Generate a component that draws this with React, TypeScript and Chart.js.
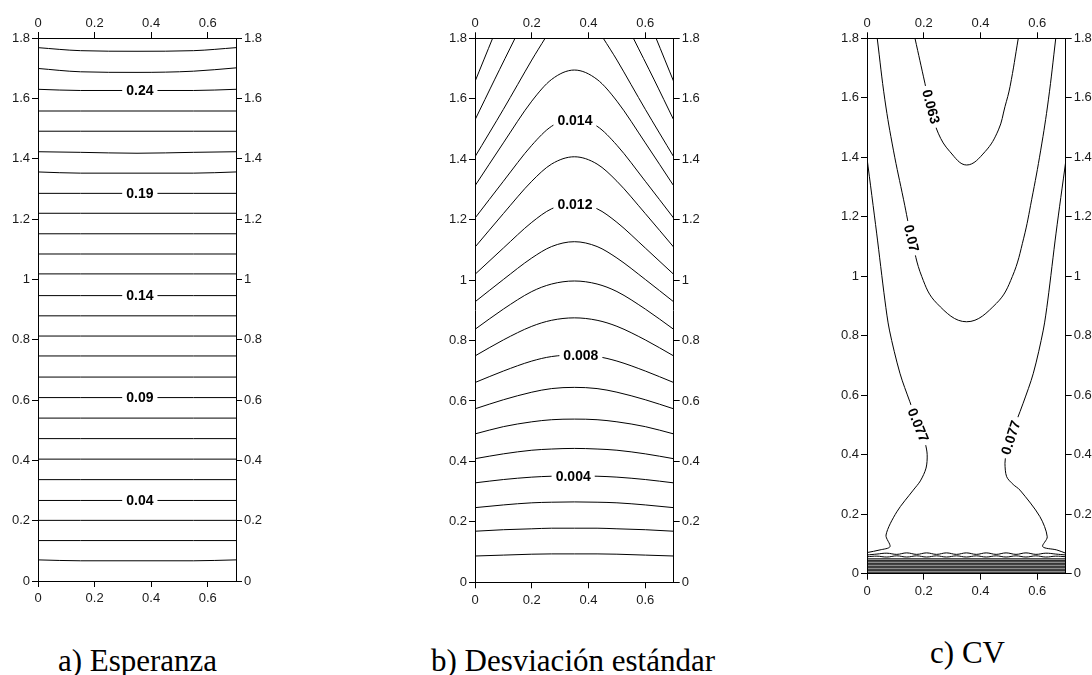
import React, { useEffect, useRef } from 'react';
import { Chart, registerables } from 'chart.js';
Chart.register(...registerables);

// ---------- shared axes ----------
const xTicks = [0, 0.2, 0.4, 0.6];
const yTicks = [0, 0.2, 0.4, 0.6, 0.8, 1, 1.2, 1.4, 1.6, 1.8];
const xMax = 0.7;
const yMax = 1.8;

// ---------- a) Esperanza ----------
const espX = [0, 0.15, 0.35, 0.55, 0.7];
const espLines = [
  [0.070, 0.067, 0.067, 0.067, 0.070],
  [0.134, 0.134, 0.134, 0.134, 0.134],
  [0.201, 0.201, 0.201, 0.201, 0.201],
  [0.267, 0.267, 0.267, 0.267, 0.267],
  [0.336, 0.336, 0.336, 0.336, 0.336],
  [0.404, 0.404, 0.404, 0.404, 0.404],
  [0.472, 0.472, 0.472, 0.472, 0.472],
  [0.540, 0.540, 0.540, 0.540, 0.540],
  [0.608, 0.608, 0.608, 0.608, 0.608],
  [0.676, 0.676, 0.676, 0.676, 0.676],
  [0.746, 0.746, 0.746, 0.746, 0.746],
  [0.812, 0.812, 0.812, 0.812, 0.812],
  [0.879, 0.879, 0.879, 0.879, 0.879],
  [0.946, 0.946, 0.946, 0.946, 0.946],
  [1.018, 1.018, 1.018, 1.018, 1.018],
  [1.084, 1.084, 1.084, 1.084, 1.084],
  [1.151, 1.151, 1.151, 1.151, 1.151],
  [1.219, 1.219, 1.219, 1.219, 1.219],
  [1.285, 1.285, 1.285, 1.285, 1.285],
  [1.356, 1.352, 1.352, 1.352, 1.356],
  [1.423, 1.421, 1.418, 1.421, 1.423],
  [1.491, 1.491, 1.491, 1.491, 1.491],
  [1.558, 1.558, 1.558, 1.558, 1.558],
  [1.630, 1.626, 1.626, 1.626, 1.630],
  [1.699, 1.688, 1.686, 1.690, 1.701],
  [1.768, 1.758, 1.756, 1.758, 1.768],
];
const espLabelText = ['0.04', '0.09', '0.14', '0.19', '0.24'];
const espLabelX = [0.36, 0.36, 0.36, 0.36, 0.36];
const espLabelY = [0.267, 0.608, 0.946, 1.285, 1.627];
const espLabelAngle = [0, 0, 0, 0, 0];

// ---------- b) Desviación estándar ----------
const desvX = [0, 0.1, 0.2, 0.27, 0.35, 0.43, 0.5, 0.6, 0.7];
const desvLines = [
  [0.087, 0.090, 0.093, 0.094, 0.094, 0.094, 0.093, 0.090, 0.087],
  [0.169, 0.174, 0.177, 0.179, 0.179, 0.179, 0.177, 0.174, 0.169],
  [0.247, 0.256, 0.263, 0.265, 0.266, 0.265, 0.263, 0.256, 0.247],
  [0.329, 0.340, 0.348, 0.351, 0.352, 0.351, 0.348, 0.340, 0.329],
  [0.409, 0.425, 0.437, 0.441, 0.443, 0.441, 0.437, 0.425, 0.409],
  [0.491, 0.515, 0.531, 0.538, 0.540, 0.538, 0.531, 0.515, 0.491],
  [0.574, 0.604, 0.629, 0.641, 0.645, 0.641, 0.629, 0.604, 0.574],
  [0.661, 0.699, 0.732, 0.747, 0.752, 0.747, 0.732, 0.699, 0.661],
  [0.749, 0.802, 0.847, 0.867, 0.875, 0.867, 0.847, 0.802, 0.749],
  [0.837, 0.904, 0.962, 0.987, 0.997, 0.987, 0.962, 0.904, 0.837],
  [0.928, 1.002, 1.073, 1.111, 1.127, 1.111, 1.073, 1.002, 0.928],
  [1.019, 1.106, 1.191, 1.236, 1.255, 1.236, 1.191, 1.106, 1.019],
  [1.109, 1.220, 1.327, 1.384, 1.408, 1.384, 1.327, 1.220, 1.109],
  [1.205, 1.327, 1.446, 1.509, 1.535, 1.509, 1.446, 1.327, 1.205],
  [1.312, 1.454, 1.592, 1.664, 1.695, 1.664, 1.592, 1.454, 1.312],
];
const desvOpenLeftX = [[0, 0.1, 0.2, 0.247], [0, 0.07, 0.141], [0, 0.062]];
const desvOpenLeftY = [[1.408, 1.565, 1.728, 1.8], [1.530, 1.665, 1.8], [1.657, 1.8]];
const desvOpenRightX = [[0.452, 0.5, 0.6, 0.7], [0.558, 0.63, 0.7], [0.638, 0.7]];
const desvOpenRightY = [[1.8, 1.728, 1.565, 1.408], [1.8, 1.665, 1.530], [1.8, 1.657]];
const desvLabelText = ['0.004', '0.008', '0.012', '0.014'];
const desvLabelX = [0.346, 0.373, 0.352, 0.352];
const desvLabelY = [0.352, 0.751, 1.250, 1.530];
const desvLabelAngle = [0, 0, 0, 0];

// ---------- c) CV ----------
const cv063X = [0.169, 0.204, 0.222, 0.251, 0.292, 0.351, 0.416, 0.463, 0.486, 0.504, 0.533];
const cv063Y = [1.8, 1.649, 1.57, 1.481, 1.419, 1.374, 1.419, 1.492, 1.57, 1.638, 1.8];
const cv07X = [0.036, 0.063, 0.093, 0.129, 0.157, 0.193, 0.246, 0.351, 0.456, 0.512, 0.552, 0.580, 0.612, 0.639, 0.665];
const cv07Y = [1.8, 1.593, 1.424, 1.257, 1.128, 0.999, 0.909, 0.847, 0.909, 0.999, 1.128, 1.257, 1.424, 1.593, 1.8];
const cv077LX = [0, 0.034, 0.063, 0.079, 0.116, 0.151, 0.181, 0.205, 0.212, 0.208, 0.188, 0.163, 0.105, 0.067, 0.081, 0.046, 0];
const cv077LY = [1.397, 1.145, 0.920, 0.819, 0.674, 0.578, 0.500, 0.438, 0.400, 0.355, 0.312, 0.281, 0.208, 0.130, 0.091, 0.080, 0.071];
const cv077RX = [0.7, 0.666, 0.637, 0.621, 0.586, 0.550, 0.506, 0.490, 0.486, 0.492, 0.515, 0.539, 0.609, 0.635, 0.619, 0.668, 0.7];
const cv077RY = [1.385, 1.145, 0.920, 0.819, 0.674, 0.573, 0.460, 0.400, 0.371, 0.326, 0.300, 0.281, 0.192, 0.124, 0.091, 0.080, 0.069];
const cvBandX = [0, 0.035, 0.07, 0.105, 0.14, 0.175, 0.21, 0.245, 0.28, 0.315, 0.35, 0.385, 0.42, 0.455, 0.49, 0.525, 0.56, 0.595, 0.63, 0.665, 0.7];
const cvWave1 = [0.063, 0.066, 0.069, 0.065, 0.070, 0.065, 0.070, 0.065, 0.070, 0.065, 0.070, 0.065, 0.070, 0.065, 0.070, 0.065, 0.070, 0.065, 0.069, 0.066, 0.063];
const cvWave2 = [0.057, 0.059, 0.056, 0.060, 0.056, 0.060, 0.056, 0.060, 0.056, 0.060, 0.056, 0.060, 0.056, 0.060, 0.056, 0.060, 0.056, 0.060, 0.056, 0.059, 0.057];
const cvFlatLevels = [0.050, 0.045, 0.040, 0.035, 0.030, 0.025, 0.020, 0.015, 0.010, 0.005];
const cvLabelText = ['0.063', '0.07', '0.077', '0.077'];
const cvLabelX = [0.226, 0.157, 0.181, 0.506];
const cvLabelY = [1.570, 1.128, 0.500, 0.458];
const cvLabelAngle = [75, 77, 68, -72];

// ---------- titles ----------
const titles = ['a) Esperanza', 'b) Desviación estándar', 'c) CV'];

type Mode = 'mono' | 'bez';
function line(xs: number[], ys: number[], mode: Mode = 'bez', tension = 0.4) {
  return {
    data: xs.map((x, i) => ({ x, y: ys[i] })),
    showLine: true,
    pointRadius: 0,
    pointHoverRadius: 0,
    borderColor: '#000',
    backgroundColor: '#000',
    borderWidth: 1,
    fill: false,
    tension: tension,
    cubicInterpolationMode: mode === 'mono' ? 'monotone' : 'default',
  };
}

function axis(pos: string, size: number, ticksArr: number[], pad: number) {
  const horizontal = pos === 'top' || pos === 'bottom';
  return {
    type: 'linear',
    position: pos,
    display: true,
    min: 0,
    max: horizontal ? xMax : yMax,
    afterBuildTicks: (s: any) => {
      s.ticks = ticksArr.map((v) => ({ value: v }));
    },
    afterFit: (s: any) => {
      if (horizontal) s.height = size;
      else s.width = size;
    },
    grid: { display: true, drawOnChartArea: false, drawTicks: true, tickLength: 6, color: '#000', lineWidth: 1 },
    border: { display: true, color: '#000', width: 1 },
    ticks: {
      color: '#1a1a1a',
      padding: pad,
      maxRotation: 0,
      minRotation: 0,
      autoSkip: false,
      font: { family: '"Liberation Sans", Arial, sans-serif', size: 13 },
      callback: (v: any) => String(Math.round(Number(v) * 10) / 10),
    },
  };
}

function labelPlugin(texts: string[], xs: number[], ys: number[], angles: number[]) {
  return {
    id: 'contourLabels',
    afterDatasetsDraw(chart: any) {
      const ctx = chart.ctx;
      const sx = chart.scales.x;
      const sy = chart.scales.y;
      ctx.save();
      ctx.font = 'bold 14px "Liberation Sans", Arial, sans-serif';
      ctx.textAlign = 'center';
      ctx.textBaseline = 'middle';
      texts.forEach((t, i) => {
        const px = sx.getPixelForValue(xs[i]);
        const py = sy.getPixelForValue(ys[i]);
        ctx.save();
        ctx.translate(px, py);
        ctx.rotate((angles[i] * Math.PI) / 180);
        const w = ctx.measureText(t).width;
        ctx.fillStyle = '#fff';
        ctx.fillRect(-w / 2 - 4, -7, w + 8, 14);
        ctx.fillStyle = '#000';
        ctx.fillText(t, 0, 1);
        ctx.restore();
      });
      ctx.restore();
    },
  };
}

interface PanelProps {
  left: number;
  w: number;
  h: number;
  yW: number;
  y2W: number;
  x2H: number;
  xH: number;
  datasets: any[];
  plugin: any;
}

function Panel(p: PanelProps) {
  const ref = useRef<HTMLCanvasElement>(null);
  useEffect(() => {
    const chart = new Chart(ref.current as HTMLCanvasElement, {
      type: 'scatter',
      data: { datasets: p.datasets },
      options: {
        responsive: false,
        animation: false,
        devicePixelRatio: 1,
        layout: { padding: 0 },
        plugins: { legend: { display: false }, tooltip: { enabled: false }, title: { display: false } },
        events: [],
        scales: {
          x: axis('bottom', p.xH, xTicks, 4),
          x2: axis('top', p.x2H, xTicks, 1),
          y: axis('left', p.yW, yTicks, 2),
          y2: axis('right', p.y2W, yTicks, 2),
        } as any,
      },
      plugins: [p.plugin],
    } as any);
    return () => chart.destroy();
  }, []);
  return (
    <canvas
      ref={ref}
      width={p.w}
      height={p.h}
      style={{ position: 'absolute', left: p.left, top: 0, width: p.w, height: p.h }}
    />
  );
}

const espDatasets = espLines.map((ys) => line(espX, ys, 'mono'));
const desvDatasets = [
  ...desvLines.map((ys) => line(desvX, ys, 'mono')),
  ...desvOpenLeftX.map((xs, i) => line(xs, desvOpenLeftY[i], 'bez', 0.3)),
  ...desvOpenRightX.map((xs, i) => line(xs, desvOpenRightY[i], 'bez', 0.3)),
];
const cvDatasets = [
  line(cv063X, cv063Y, 'bez', 0.4),
  line(cv07X, cv07Y, 'bez', 0.4),
  line(cv077LX, cv077LY, 'bez', 0.3),
  line(cv077RX, cv077RY, 'bez', 0.3),
  line(cvBandX, cvWave1, 'bez', 0.4),
  line(cvBandX, cvWave2, 'bez', 0.4),
  ...cvFlatLevels.map((lv) => line([0, 0.7], [lv, lv], 'bez', 0)),
];

const titleStyle = (center: number, top: number): React.CSSProperties => ({
  position: 'absolute',
  left: center - 200,
  top,
  width: 400,
  textAlign: 'center',
  fontFamily: '"Liberation Serif", "Times New Roman", serif',
  fontSize: 31,
  lineHeight: '31px',
  color: '#000',
  whiteSpace: 'nowrap',
});

export default function App() {
  return (
    <div style={{ position: 'absolute', left: 0, top: 0, width: 1092, height: 675, background: '#fff', overflow: 'hidden' }}>
      <Panel left={0} w={280} h={610} yW={38} y2W={44} x2H={38} xH={29} datasets={espDatasets}
        plugin={labelPlugin(espLabelText, espLabelX, espLabelY, espLabelAngle)} />
      <Panel left={420} w={300} h={610} yW={55} y2W={46.3} x2H={38.3} xH={27.7} datasets={desvDatasets}
        plugin={labelPlugin(desvLabelText, desvLabelX, desvLabelY, desvLabelAngle)} />
      <Panel left={820} w={272} h={610} yW={47} y2W={26.3} x2H={38.3} xH={36.3} datasets={cvDatasets}
        plugin={labelPlugin(cvLabelText, cvLabelX, cvLabelY, cvLabelAngle)} />
      <div style={titleStyle(137.5, 645)}>{titles[0]}</div>
      <div style={titleStyle(573, 645)}>{titles[1]}</div>
      <div style={titleStyle(967.5, 637)}>{titles[2]}</div>
    </div>
  );
}
